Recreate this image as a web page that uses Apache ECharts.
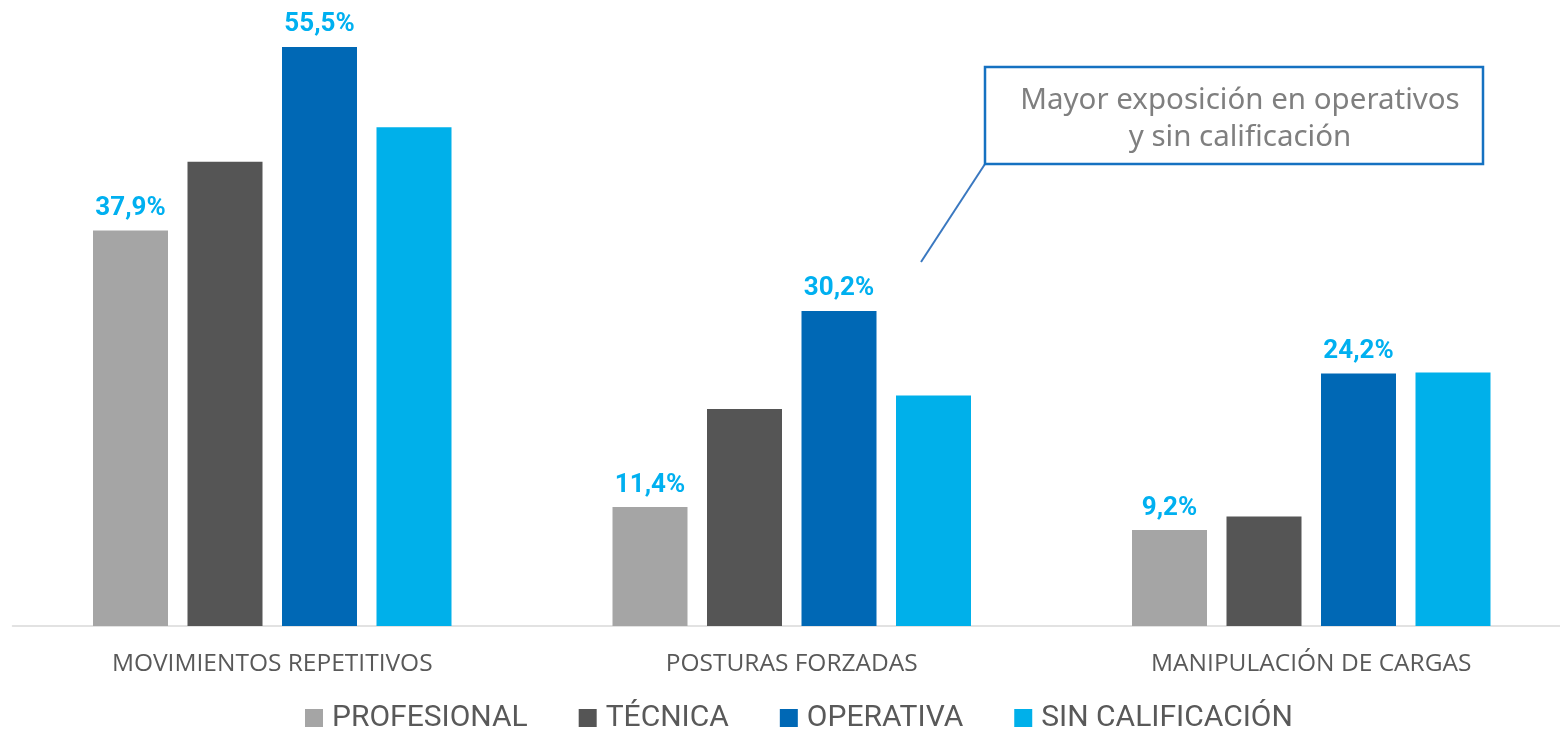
<!DOCTYPE html>
<html>
<head>
<meta charset="utf-8">
<script src="https://cdn.jsdelivr.net/npm/echarts@6/dist/echarts.min.js"></script>
<style>
  html, body { margin: 0; padding: 0; background: #fff; overflow: hidden; }
  /* the plot runs a few px past the right edge in the original */
  #chart { width: 1572px; height: 730px; }
</style>
</head>
<body>
<div id="chart"></div>
<script>
// categories and series values (percent)
const categories = ["MOVIMIENTOS REPETITIVOS", "POSTURAS FORZADAS", "MANIPULACIÓN DE CARGAS"];
const seriesNames = ["PROFESIONAL", "TÉCNICA", "OPERATIVA", "SIN CALIFICACIÓN"];
const profesional = [37.9, 11.4, 9.2];
const tecnica = [44.5, 20.8, 10.5];
const operativa = [55.5, 30.2, 24.2];
const sinCalificacion = [47.8, 22.1, 24.3];
// only some series show their value on top
const showLabels = [true, false, true, false];
const colors = ["#A5A5A5", "#555555", "#0068B5", "#00B0EA"];
const noteLines = ["Mayor exposición en operativos", "y sin calificación"];

function fmt(v) {
  return v.toFixed(1).replace(".", ",") + "%";
}

const allValues = [profesional, tecnica, operativa, sinCalificacion];

let series = [];
for (let i = 0; i < seriesNames.length; i++) {
  series.push({
    name: seriesNames[i],
    type: "bar",
    data: allValues[i],
    barWidth: 75,
    barGap: "26%",
    itemStyle: { color: colors[i] },
    label: {
      show: showLabels[i],
      position: "top",
      distance: 9,
      color: "#00B0F0",
      fontFamily: "Roboto",
      fontWeight: "bold",
      fontSize: 26,
      formatter: (p) => fmt(p.value),
    },
  });
}

var dom = document.getElementById("chart");
var myChart = echarts.init(dom, null, { renderer: "canvas" });

var option = {
  animation: false,
  color: colors,
  grid: { left: 12.5, top: 0, width: 1558.5, height: 626, containLabel: false },
  xAxis: {
    type: "category",
    data: categories,
    axisLine: { lineStyle: { color: "#D9D9D9", width: 1.5 } },
    axisTick: { show: false },
    axisLabel: {
      color: "#595959",
      fontFamily: "Open Sans",
      fontSize: 24.5,
      margin: 26,
    },
  },
  yAxis: {
    type: "value",
    min: 0,
    max: 60,
    show: false,
    splitLine: { show: false },
  },
  legend: {
    top: 698,
    left: 300,
    icon: "rect",
    itemWidth: 18,
    itemHeight: 18,
    itemGap: 51,
    textStyle: {
      color: "#595959",
      fontFamily: "Roboto",
      fontSize: 30,
      padding: [0, 0, 0, 4],
    },
  },
  graphic: [
    {
      type: "line",
      shape: { x1: 985, y1: 164, x2: 921, y2: 262 },
      style: { stroke: "#3A78C0", lineWidth: 2 },
    },
    {
      type: "rect",
      shape: { x: 985, y: 67, width: 498, height: 97 },
      style: { fill: "#fff", stroke: "#1571C1", lineWidth: 2.5 },
    },
    {
      type: "text",
      x: 1240,
      y: 119,
      style: {
        text: noteLines.join("\n"),
        fill: "#7F7F7F",
        font: "29.5px 'Noto Sans'",
        align: "center",
        verticalAlign: "middle",
        lineHeight: 37,
      },
    },
  ],
  series: series,
};

myChart.setOption(option);
window.addEventListener("resize", myChart.resize);
</script>
</body>
</html>
